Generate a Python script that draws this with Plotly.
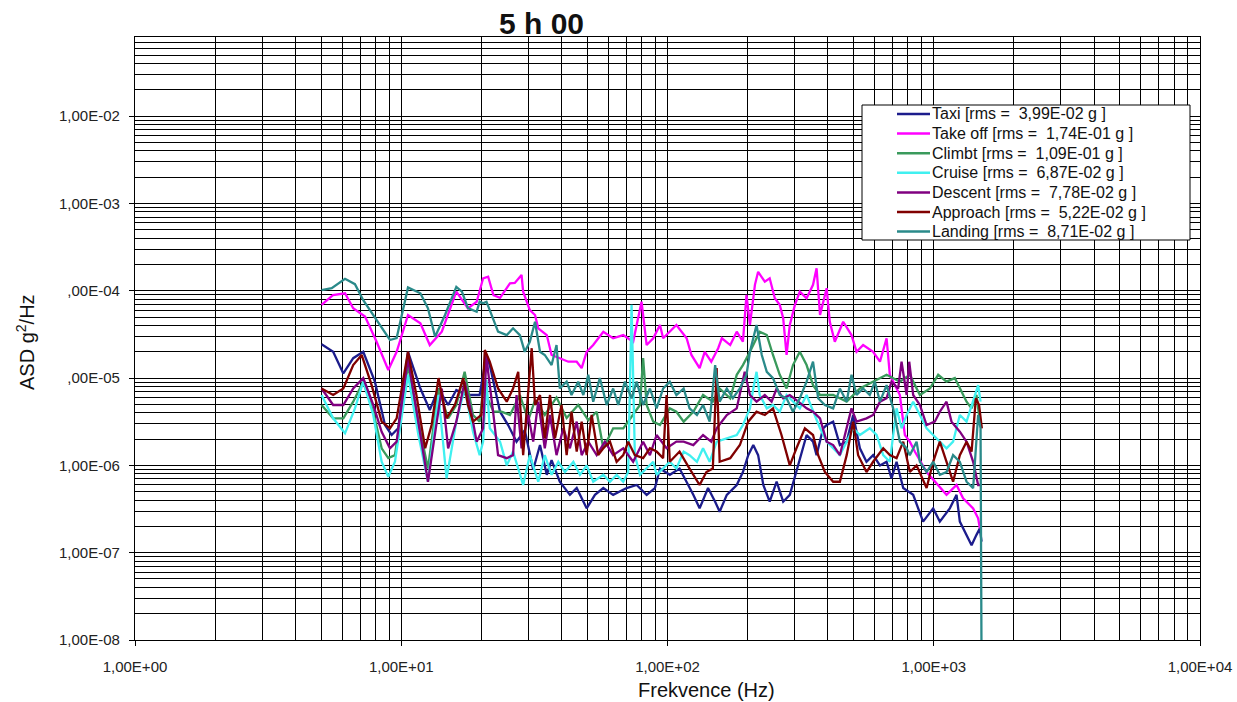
import plotly.graph_objects as go

# Acceleration spectral density per flight phase: (frequency Hz, ASD g^2/Hz)
TAXI = [(5.02, 2.44e-5), (5.55, 2.0e-5), (6.06, 1.13e-5), (6.60, 1.69e-5), (7.20, 2.0e-5), (7.96, 9.1e-6),
        (8.69, 2.9e-6), (9.20, 2.23e-6), (9.74, 2.66e-6), (10.6, 2.0e-5), (11.8, 7.6e-6), (12.8, 4.31e-6),
        (13.8, 7.6e-6), (15.0, 4.92e-6), (16.1, 7.3e-6), (17.6, 6.4e-6), (19.7, 6.4e-6), (20.9, 1.84e-5),
        (21.5, 1.41e-5), (23.5, 4.12e-6), (25.2, 2.9e-6), (27.1, 1.87e-6), (29.1, 2.54e-6), (31.3, 8.9e-7),
        (33.2, 1.71e-6), (35.2, 7.8e-7), (36.7, 1.15e-6), (39.4, 6.5e-7), (43.0, 4.6e-7), (45.6, 5.5e-7),
        (49.7, 3.22e-7), (53.4, 4.6e-7), (57.4, 5.5e-7), (62.5, 4.6e-7), (70.2, 5.5e-7), (76.6, 5.96e-7),
        (83.5, 4.6e-7), (89.7, 5.5e-7), (93.7, 9.2e-7), (102, 7.8e-7), (111, 9.2e-7), (118, 6.5e-7),
        (125, 4.6e-7), (132, 3.22e-7), (142, 5.5e-7), (151, 3.84e-7), (157, 2.95e-7), (167, 4.6e-7),
        (182, 5.96e-7), (192, 8.4e-7), (201, 1.31e-6), (210, 1.71e-6), (219, 1.31e-6), (229, 5.96e-7),
        (242, 3.84e-7), (257, 6.5e-7), (272, 3.84e-7), (288, 4.6e-7), (305, 8.4e-7), (333, 2.23e-6),
        (352, 1.87e-6), (363, 1.31e-6), (384, 2.66e-6), (396, 2.9e-6), (419, 3.17e-6), (444, 1.71e-6),
        (471, 1.87e-6), (498, 3.78e-6), (528, 1.57e-6), (559, 1.10e-6), (592, 1.31e-6), (628, 1.0e-6),
        (665, 1.10e-6), (694, 7.1e-7), (725, 1.10e-6), (768, 5.5e-7), (837, 4.6e-7), (912, 2.27e-7),
        (995, 3.22e-7), (1054, 2.27e-7), (1149, 3.22e-7), (1218, 4.6e-7), (1253, 2.27e-7), (1328, 1.6e-7),
        (1387, 1.22e-7), (1447, 1.6e-7), (1490, 1.9e-7), (1512, 1.34e-7)]

TAKE_OFF = [(5.02, 6.9e-5), (5.54, 8.9e-5), (6.15, 9.36e-5), (6.60, 6.3e-5), (7.31, 5.06e-5), (8.08, 2.61e-5),
            (8.94, 1.24e-5), (9.61, 2.0e-5), (10.6, 5.28e-5), (11.8, 4.24e-5), (12.8, 2.39e-5), (14.2, 3.4e-5),
            (16.1, 9.77e-5), (17.8, 6.3e-5), (19.2, 7.5e-5), (20.3, 1.39e-4), (21.2, 1.45e-4), (22.2, 8.9e-5),
            (23.5, 8.3e-5), (25.6, 1.22e-4), (26.7, 1.23e-4), (28.3, 1.52e-4), (28.7, 9.77e-5), (30.4, 6.0e-5),
            (31.8, 5.28e-5), (32.7, 3.72e-5), (35.2, 3.11e-5), (36.7, 1.84e-5), (39.4, 1.69e-5), (42.4, 1.54e-5),
            (45.6, 1.54e-5), (47.6, 1.3e-5), (49.7, 2.0e-5), (52.6, 2.39e-5), (57.4, 3.4e-5), (62.5, 2.86e-5),
            (68.2, 3.11e-5), (74.3, 2.61e-5), (79.9, 7.5e-5), (83.5, 2.39e-5), (88.4, 2.86e-5), (93.7, 4.06e-5),
            (96.3, 2.86e-5), (108, 4.06e-5), (118, 2.86e-5), (123, 1.84e-5), (132, 1.3e-5), (138, 2.0e-5),
            (146, 1.54e-5), (155, 2.2e-5), (160, 2.86e-5), (172, 2.39e-5), (182, 3.4e-5), (192, 2.61e-5),
            (198, 9.0e-5), (204, 4.06e-5), (213, 1.17e-4), (219, 1.65e-4), (232, 1.27e-4), (242, 1.39e-4),
            (253, 8.2e-5), (264, 6.9e-5), (272, 4.84e-5), (280, 1.84e-5), (288, 4.06e-5), (301, 6.9e-5),
            (314, 9.77e-5), (333, 8.2e-5), (352, 1.17e-4), (363, 1.81e-4), (374, 5.28e-5), (396, 1.07e-4),
            (407, 4.42e-5), (425, 2.61e-5), (457, 4.42e-5), (491, 3.11e-5), (513, 2.0e-5), (543, 2.39e-5),
            (592, 2.0e-5), (628, 1.54e-5), (665, 2.86e-5), (684, 1.09e-5), (746, 6.4e-6), (779, 2.23e-6),
            (813, 1.87e-6), (849, 1.44e-6), (940, 8.4e-7), (1009, 6.5e-7), (1117, 4.6e-7), (1218, 5.96e-7),
            (1289, 4.2e-7), (1406, 3.22e-7), (1468, 2.48e-7), (1490, 1.9e-7)]

CLIMBT = [(5.02, 4.92e-6), (5.55, 3.46e-6), (6.06, 3.46e-6), (6.60, 5.37e-6), (7.20, 9.1e-6), (7.85, 4.12e-6),
          (8.44, 1.57e-6), (8.94, 1.21e-6), (9.47, 1.31e-6), (10.6, 1.41e-5), (11.8, 2.43e-6), (12.6, 9.2e-7),
          (13.8, 7.6e-6), (15.0, 3.46e-6), (16.1, 4.92e-6), (17.3, 1.18e-5), (18.6, 3.78e-6), (19.7, 3.17e-6),
          (20.3, 7.6e-6), (22.2, 4.12e-6), (23.8, 4.12e-6), (25.6, 3.78e-6), (27.9, 6.4e-6), (30.0, 3.3e-6),
          (31.8, 5.6e-6), (34.6, 3.78e-6), (38.3, 6.0e-6), (41.8, 3.5e-6), (46.2, 4.92e-6), (50.4, 3.3e-6),
          (54.2, 4.12e-6), (57.4, 1.57e-6), (62.5, 2.66e-6), (68.2, 2.66e-6), (78.8, 4.92e-6), (81.0, 1.69e-5),
          (83.5, 4.92e-6), (88.4, 3.17e-6), (93.7, 2.9e-6), (102, 4.5e-6), (108, 4.12e-6), (115, 3.17e-6),
          (125, 4.12e-6), (136, 6.4e-6), (148, 5.37e-6), (157, 7.6e-6), (172, 5.87e-6), (182, 1.09e-5),
          (192, 1.41e-5), (204, 2.0e-5), (222, 3.4e-5), (236, 3.11e-5), (249, 1.84e-5), (264, 1.09e-5),
          (280, 7.6e-6), (296, 1.41e-5), (314, 2.0e-5), (333, 1.41e-5), (352, 8.3e-6), (374, 6.4e-6),
          (419, 6.4e-6), (471, 5.37e-6), (528, 7.6e-6), (592, 9.1e-6), (665, 1.09e-5), (746, 9.1e-6),
          (813, 1.09e-5), (887, 6.4e-6), (967, 7.6e-6), (1039, 1.09e-5), (1117, 9.1e-6), (1200, 1.0e-5),
          (1253, 7.6e-6), (1328, 5.37e-6), (1387, 4.5e-6), (1447, 6.4e-6), (1490, 3.17e-6)]

CRUISE = [(5.02, 6.4e-6), (5.55, 3.46e-6), (6.15, 2.33e-6), (6.70, 4.5e-6), (7.20, 9.1e-6), (7.85, 3.78e-6),
          (8.44, 1.10e-6), (8.94, 7.4e-7), (9.47, 1.10e-6), (10.6, 1.09e-5), (11.6, 2.23e-6), (12.6, 6.5e-7),
          (13.8, 6.4e-6), (14.8, 7.1e-7), (16.1, 3.17e-6), (17.3, 7.6e-6), (18.6, 2.43e-6), (19.7, 1.31e-6),
          (20.3, 1.87e-6), (20.9, 9.5e-6), (21.5, 2.66e-6), (23.5, 1.87e-6), (24.9, 1.0e-6), (26.3, 1.44e-6),
          (28.7, 5.96e-7), (30.4, 1.31e-6), (32.7, 6.5e-7), (34.6, 1.31e-6), (36.7, 7.8e-7), (38.9, 1.10e-6),
          (41.2, 8.4e-7), (44.3, 1.10e-6), (46.9, 7.8e-7), (49.7, 1.0e-6), (52.6, 6.5e-7), (57.4, 7.8e-7),
          (60.8, 6.5e-7), (64.4, 7.8e-7), (68.2, 6.5e-7), (71.2, 8.4e-7), (73.3, 6.9e-5), (75.4, 1.31e-6),
          (78.8, 7.8e-7), (83.5, 9.2e-7), (88.4, 1.10e-6), (91.0, 7.8e-7), (96.3, 9.2e-7), (102, 1.10e-6),
          (108, 9.2e-7), (115, 1.44e-6), (121, 1.31e-6), (129, 1.10e-6), (136, 1.57e-6), (144, 1.10e-6),
          (153, 1.87e-6), (167, 2.04e-6), (182, 2.23e-6), (192, 2.9e-6), (204, 4.5e-6), (210, 7.6e-6),
          (216, 1.18e-5), (222, 6.4e-6), (236, 4.5e-6), (249, 4.92e-6), (264, 4.12e-6), (280, 6.4e-6),
          (296, 5.37e-6), (314, 4.5e-6), (333, 6.4e-6), (352, 4.12e-6), (374, 2.66e-6), (396, 1.87e-6),
          (419, 1.57e-6), (444, 1.31e-6), (471, 1.87e-6), (498, 2.66e-6), (528, 2.23e-6), (575, 2.66e-6),
          (610, 2.23e-6), (646, 1.31e-6), (684, 1.10e-6), (725, 4.5e-6), (757, 2.66e-6), (791, 3.78e-6),
          (837, 5.37e-6), (887, 3.78e-6), (940, 2.66e-6), (995, 2.23e-6), (1054, 1.87e-6), (1117, 1.57e-6),
          (1182, 1.87e-6), (1253, 3.78e-6), (1328, 3.17e-6), (1406, 5.37e-6), (1468, 8.3e-6), (1499, 5.37e-6)]

DESCENT = [(5.02, 7.6e-6), (5.55, 4.92e-6), (6.06, 4.92e-6), (6.60, 7.6e-6), (7.20, 1.0e-5), (7.85, 4.92e-6),
           (8.44, 2.43e-6), (9.07, 1.57e-6), (9.61, 1.87e-6), (10.6, 1.69e-5), (11.8, 2.23e-6), (12.6, 6.5e-7),
           (13.6, 3.17e-6), (14.2, 7.6e-6), (15.0, 1.57e-6), (16.1, 3.17e-6), (17.3, 9.1e-6), (18.4, 3.78e-6),
           (19.2, 1.87e-6), (20.3, 2.66e-6), (20.9, 1.84e-5), (21.2, 1.18e-5), (22.2, 3.78e-6), (23.1, 1.31e-6),
           (24.9, 1.21e-6), (26.3, 1.31e-6), (27.1, 6.4e-6), (28.3, 1.57e-6), (30.0, 3.78e-6), (31.3, 1.87e-6),
           (32.7, 5.37e-6), (34.6, 1.57e-6), (36.2, 3.78e-6), (38.3, 1.31e-6), (40.6, 2.66e-6), (43.0, 1.57e-6),
           (45.6, 3.17e-6), (47.6, 1.31e-6), (50.4, 1.87e-6), (54.2, 1.31e-6), (58.2, 1.87e-6), (62.5, 1.31e-6),
           (68.2, 1.57e-6), (74.3, 1.10e-6), (81.0, 1.87e-6), (85.9, 1.31e-6), (91.0, 2.23e-6), (99.2, 1.57e-6),
           (108, 1.87e-6), (115, 1.87e-6), (125, 1.71e-6), (136, 2.23e-6), (146, 1.87e-6), (153, 2.66e-6),
           (167, 3.78e-6), (182, 4.5e-6), (195, 1.18e-5), (204, 6.4e-6), (216, 5.37e-6), (232, 6.4e-6),
           (246, 5.37e-6), (257, 7.6e-6), (272, 5.87e-6), (288, 6.4e-6), (310, 5.37e-6), (333, 4.5e-6),
           (352, 4.12e-6), (374, 3.46e-6), (396, 1.87e-6), (419, 1.71e-6), (444, 1.31e-6), (471, 2.66e-6),
           (491, 4.5e-6), (513, 3.17e-6), (559, 3.46e-6), (592, 3.78e-6), (628, 5.37e-6), (665, 5.87e-6),
           (694, 9.1e-6), (735, 7.6e-6), (757, 1.54e-5), (791, 6.4e-6), (809, 1.54e-5), (837, 6.4e-6),
           (887, 4.92e-6), (940, 2.9e-6), (1009, 3.17e-6), (1054, 4.12e-6), (1117, 5.37e-6), (1166, 3.17e-6),
           (1253, 2.43e-6), (1328, 1.87e-6), (1406, 1.10e-6), (1468, 5.96e-7), (1512, 5.96e-7)]

APPROACH = [(5.02, 7.6e-6), (5.55, 6.4e-6), (6.06, 7.6e-6), (6.60, 1.41e-5), (7.10, 1.84e-5), (7.74, 8.3e-6),
            (8.44, 3.17e-6), (9.07, 2.66e-6), (9.61, 3.46e-6), (10.6, 2.0e-5), (11.4, 6.4e-6), (12.3, 1.57e-6),
            (13.0, 2.9e-6), (13.8, 1.0e-5), (14.8, 3.46e-6), (15.9, 4.92e-6), (17.1, 1.0e-5), (17.8, 4.92e-6),
            (18.6, 3.17e-6), (20.0, 3.78e-6), (20.6, 2.1e-5), (21.5, 1.54e-5), (23.1, 7.6e-6), (24.9, 5.37e-6),
            (26.3, 7.6e-6), (27.5, 1.18e-5), (28.7, 1.31e-6), (30.9, 2.2e-5), (31.8, 4.92e-6), (33.2, 6.4e-6),
            (34.6, 2.04e-6), (36.2, 6.4e-6), (37.8, 2.04e-6), (40.0, 4.92e-6), (41.8, 1.31e-6), (43.6, 4.12e-6),
            (45.6, 1.44e-6), (47.6, 3.17e-6), (49.7, 1.31e-6), (51.9, 3.78e-6), (54.9, 1.31e-6), (57.4, 1.57e-6),
            (60.8, 1.87e-6), (64.4, 1.10e-6), (68.2, 1.31e-6), (71.2, 1.87e-6), (75.4, 1.31e-6), (81.0, 1.21e-6),
            (85.9, 1.57e-6), (91.0, 1.44e-6), (96.3, 1.21e-6), (99.2, 6.4e-6), (102, 1.10e-6), (111, 1.44e-6),
            (121, 9.2e-7), (132, 5.96e-7), (140, 8.4e-7), (148, 9.2e-7), (153, 1.3e-5), (157, 1.10e-6),
            (172, 1.21e-6), (187, 1.71e-6), (201, 3.17e-6), (216, 4.12e-6), (232, 3.78e-6), (249, 4.5e-6),
            (268, 2.23e-6), (288, 1.0e-6), (305, 1.57e-6), (328, 2.66e-6), (352, 2.23e-6), (368, 1.31e-6),
            (390, 8.4e-7), (419, 6.5e-7), (444, 6.5e-7), (471, 1.31e-6), (498, 3.17e-6), (520, 1.31e-6),
            (559, 8.4e-7), (592, 1.10e-6), (646, 1.57e-6), (684, 1.31e-6), (725, 1.21e-6), (768, 1.87e-6),
            (813, 8.4e-7), (862, 1.0e-6), (940, 5.5e-7), (995, 1.10e-6), (1054, 1.87e-6), (1117, 1.10e-6),
            (1182, 6.5e-7), (1253, 1.31e-6), (1328, 1.87e-6), (1387, 1.44e-6), (1439, 5.87e-6), (1480, 4.92e-6),
            (1516, 2.66e-6)]

LANDING = [(5.02, 1.02e-4), (5.48, 1.07e-4), (6.15, 1.37e-4), (6.70, 1.19e-4), (7.20, 7.8e-5), (8.32, 4.06e-5),
           (9.07, 2.73e-5), (9.61, 2.88e-5), (10.6, 1.09e-4), (11.8, 9.36e-5), (12.6, 6.3e-5), (13.4, 2.98e-5),
           (14.6, 5.28e-5), (16.1, 1.11e-4), (16.9, 9.77e-5), (17.8, 6.35e-5), (19.2, 5.76e-5), (19.7, 7.5e-5),
           (20.3, 7.2e-5), (20.9, 7.5e-5), (21.9, 5.28e-5), (23.1, 3.4e-5), (24.9, 3.11e-5), (26.3, 3.72e-5),
           (27.9, 3.11e-5), (29.1, 2.0e-5), (30.4, 2.61e-5), (31.8, 4.42e-5), (33.2, 2.0e-5), (34.6, 1.84e-5),
           (36.7, 1.41e-5), (38.3, 2.39e-5), (39.4, 7.6e-6), (41.8, 9.1e-6), (43.6, 6.4e-6), (46.2, 9.1e-6),
           (48.3, 6.4e-6), (50.4, 1.09e-5), (52.6, 5.37e-6), (55.7, 1.0e-5), (59.1, 4.92e-6), (62.5, 7.6e-6),
           (65.3, 4.92e-6), (69.2, 9.1e-6), (73.3, 5.87e-6), (76.6, 9.1e-6), (81.0, 4.92e-6), (85.9, 7.6e-6),
           (91.0, 4.5e-6), (96.3, 7.6e-6), (102, 9.1e-6), (108, 6.4e-6), (115, 7.6e-6), (121, 4.5e-6),
           (129, 3.78e-6), (136, 4.92e-6), (144, 3.17e-6), (151, 1.41e-5), (157, 5.37e-6), (167, 7.6e-6),
           (176, 5.87e-6), (187, 7.6e-6), (198, 1.09e-5), (204, 2.0e-5), (216, 4.06e-5), (226, 1.84e-5),
           (236, 1.18e-5), (249, 1.0e-5), (264, 6.4e-6), (280, 5.87e-6), (296, 4.12e-6), (314, 5.87e-6),
           (333, 9.1e-6), (352, 1.54e-5), (368, 5.87e-6), (390, 4.92e-6), (419, 4.5e-6), (444, 7.6e-6),
           (471, 5.37e-6), (491, 1.09e-5), (513, 6.4e-6), (543, 7.6e-6), (575, 6.4e-6), (601, 9.1e-6),
           (628, 5.37e-6), (665, 8.3e-6), (704, 4.5e-6), (746, 1.87e-6), (791, 1.57e-6), (813, 1.31e-6),
           (862, 1.87e-6), (887, 1.10e-6), (940, 8.4e-7), (995, 1.10e-6), (1054, 7.8e-7), (1117, 8.4e-7),
           (1182, 1.31e-6), (1253, 1.10e-6), (1328, 6.5e-7), (1406, 5.5e-7), (1468, 3.78e-6), (1499, 2.66e-6),
           (1512, 5e-9)]

PHASES = ["Taxi", "Take off", "Climbt", "Cruise", "Descent", "Approach", "Landing"]
RMS_G = [3.99e-2, 1.74e-1, 1.09e-1, 6.87e-2, 7.78e-2, 5.22e-2, 8.71e-2]
SPECTRA = [TAXI, TAKE_OFF, CLIMBT, CRUISE, DESCENT, APPROACH, LANDING]
COLORS = ["#1c1c8c", "#ff00ff", "#3a9a5c", "#40f0f0", "#800080", "#800000", "#2a8a8a"]

Y_DECADES = [1e-8, 1e-7, 1e-6, 1e-5, 1e-4, 1e-3, 1e-2]
X_DECADES = [1, 10, 100, 1000, 10000]

FONT = "Liberation Sans, Arial, sans-serif"

# plot-area geometry in pixels, used to place the legend block in paper units
PLOT_LEFT, PLOT_RIGHT, PLOT_TOP, PLOT_BOTTOM = 135, 1200, 37, 640


def px_x(px):
    return (px - PLOT_LEFT) / (PLOT_RIGHT - PLOT_LEFT)


def px_y(py):
    return (PLOT_BOTTOM - py) / (PLOT_BOTTOM - PLOT_TOP)


def excel_sci(v):
    """Format a number the way the spreadsheet does: 1,00E-02."""
    return f"{v:.2E}".replace(".", ",")


# the rotated axis-title box hides the leading digit of these two labels
y_ticktext = []
for v in Y_DECADES:
    label = excel_sci(v)
    if v in (1e-4, 1e-5):
        label = label[1:]
    y_ticktext.append(label)

x_minor = [m * 10 ** k for k in range(0, 4) for m in range(2, 10)]
y_minor = [m * 10.0 ** k for k in range(-8, -1) for m in range(2, 10)] + [m * 1e-2 for m in range(2, 9)]

fig = go.Figure()
for phase, spec, color in zip(PHASES, SPECTRA, COLORS):
    fig.add_trace(go.Scatter(
        x=[p[0] for p in spec], y=[p[1] for p in spec], mode="lines",
        name=phase, showlegend=False,
        line=dict(color=color, width=2.3),
    ))

grid_color, grid_width = "#000000", 1.2
tickfont = dict(family=FONT, size=15, color="#222222")

fig.update_xaxes(
    type="log", range=[0, 4], automargin=False,
    tickmode="array", tickvals=X_DECADES, ticktext=[excel_sci(v) for v in X_DECADES],
    ticks="outside", ticklen=5, tickcolor="#000000", tickfont=tickfont, ticklabelstandoff=8,
    showgrid=True, gridcolor=grid_color, gridwidth=grid_width,
    minor=dict(tickvals=x_minor, showgrid=True, gridcolor=grid_color, gridwidth=grid_width, ticks=""),
    showline=True, linecolor="#000000", linewidth=1.2, mirror=True, zeroline=False,
)
fig.update_yaxes(
    type="log", range=[-8, -1.093], automargin=False,
    tickmode="array", tickvals=Y_DECADES, ticktext=y_ticktext,
    ticks="outside", ticklen=5, tickcolor="#000000", tickfont=tickfont, ticklabelstandoff=6,
    showgrid=True, gridcolor=grid_color, gridwidth=grid_width,
    minor=dict(tickvals=y_minor, showgrid=True, gridcolor=grid_color, gridwidth=grid_width, ticks=""),
    showline=True, linecolor="#000000", linewidth=1.2, mirror=True, zeroline=False,
)

# legend block: white framed box with a line sample and rms label per phase
fig.add_shape(type="rect", xref="paper", yref="paper",
              x0=px_x(862), x1=px_x(1190), y0=px_y(240), y1=px_y(105),
              line=dict(color="#000000", width=1), fillcolor="#ffffff", layer="above")
ROW_TOP, ROW_STEP = 114, 19.6
for i, (phase, rms, color) in enumerate(zip(PHASES, RMS_G, COLORS)):
    row_y = px_y(ROW_TOP + i * ROW_STEP)
    fig.add_shape(type="line", xref="paper", yref="paper",
                  x0=px_x(897), x1=px_x(930), y0=row_y, y1=row_y,
                  line=dict(color=color, width=2.5), layer="above")
    fig.add_annotation(text=f"{phase} [rms =  {excel_sci(rms)} g ]",
                       xref="paper", yref="paper", x=px_x(931), y=row_y,
                       xanchor="left", yanchor="middle", showarrow=False, borderpad=0,
                       font=dict(family=FONT, size=16, color="#111111"))

fig.add_annotation(text="<b>5 h 00</b>", xref="paper", yref="paper", x=px_x(541), y=px_y(24),
                   showarrow=False, xanchor="center", yanchor="middle",
                   font=dict(family=FONT, size=30, color="#111111"))
fig.add_annotation(text="ASD g<sup>2</sup>/Hz", xref="paper", yref="paper", x=px_x(25), y=px_y(342),
                   textangle=-90, showarrow=False, xanchor="center", yanchor="middle",
                   font=dict(family=FONT, size=20, color="#111111"))
fig.add_annotation(text="Frekvence (Hz)", xref="paper", yref="paper", x=px_x(706), y=px_y(690),
                   showarrow=False, xanchor="center", yanchor="middle",
                   font=dict(family=FONT, size=20, color="#111111"))

fig.update_layout(
    width=1237, height=702,
    margin=dict(l=PLOT_LEFT, r=1237 - PLOT_RIGHT, t=PLOT_TOP, b=702 - PLOT_BOTTOM),
    paper_bgcolor="#ffffff", plot_bgcolor="#ffffff",
    showlegend=False,
)

fig.write_html("out.html")
